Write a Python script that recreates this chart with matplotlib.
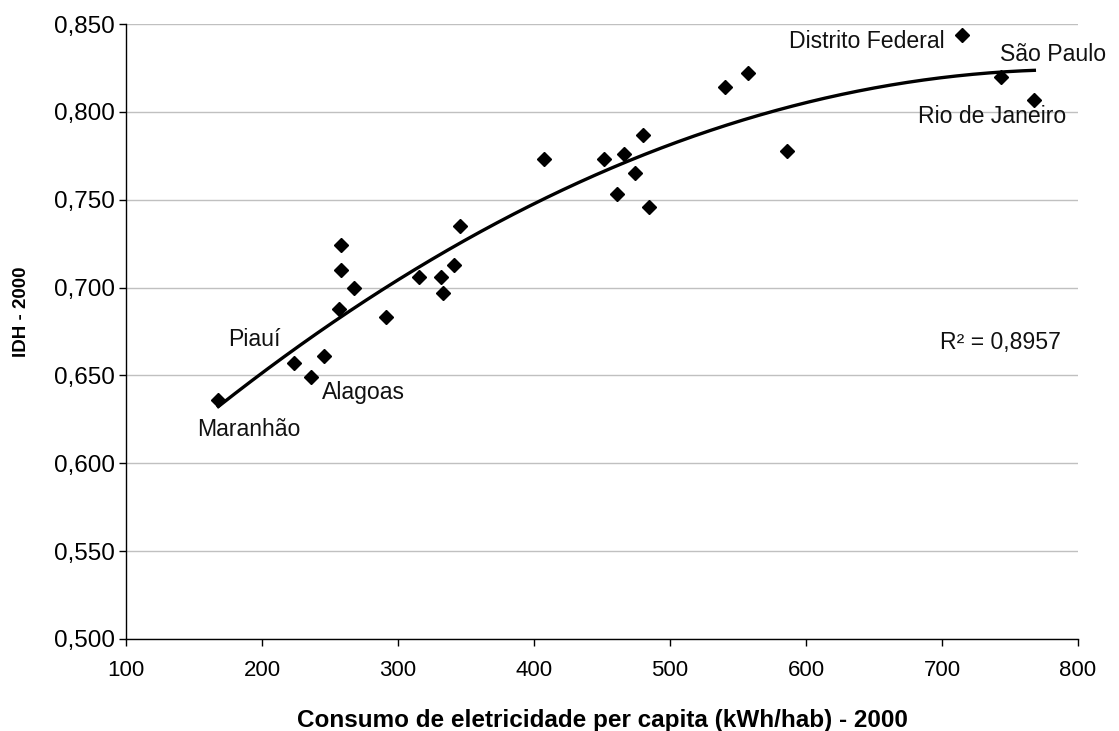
import matplotlib
matplotlib.use("Agg")
import matplotlib.pyplot as plt
import numpy as np
from matplotlib.ticker import FuncFormatter

# ---- data ----
consumo = [167.9, 223.8, 236.0, 245.6, 256.6, 257.8, 257.8, 267.6, 291.2, 315.7,
           331.9, 333.3, 341.4, 345.8, 407.6, 451.5, 460.8, 466.2, 474.3, 479.9,
           484.3, 540.4, 557.6, 585.8, 714.9, 743.4, 767.9]
idh = [0.636, 0.657, 0.649, 0.661, 0.688, 0.710, 0.724, 0.700, 0.683, 0.706,
       0.706, 0.697, 0.713, 0.735, 0.773, 0.773, 0.753, 0.776, 0.765, 0.787,
       0.746, 0.814, 0.822, 0.778, 0.844, 0.820, 0.807]

label_names = ["Distrito Federal", "São Paulo", "Rio de Janeiro", "Piauí", "Alagoas", "Maranhão"]
label_x = [702.2, 742.6, 682.4, 175.0, 244.1, 152.2]
label_y = [0.8398, 0.8324, 0.7971, 0.6702, 0.6400, 0.6195]
label_ha = ["right", "left", "left", "left", "left", "left"]

r2_text = "R² = 0,8957"
x_ticks = [100, 200, 300, 400, 500, 600, 700, 800]
y_ticks = [0.500, 0.550, 0.600, 0.650, 0.700, 0.750, 0.800, 0.850]
x_label = "Consumo de eletricidade per capita (kWh/hab) - 2000"
y_label = "IDH - 2000"

plt.rcParams['font.family'] = ['Liberation Sans', 'DejaVu Sans']

fig = plt.figure(figsize=(11.19, 7.31), dpi=100)
ax = fig.add_axes([126/1119, 1-639/731, (1078-126)/1119, (639-24)/731])

# polynomial (order 2) trendline
coef = np.polyfit(consumo, idh, 2)
xs = np.linspace(min(consumo), max(consumo), 200)
ax.plot(xs, np.polyval(coef, xs), color='black', lw=2.4, zorder=2)

ax.plot(consumo, idh, linestyle='none', marker='D', ms=6.8, color='black', zorder=3)

for name, x, y, ha in zip(label_names, label_x, label_y, label_ha):
    ax.text(x, y, name, ha=ha, va='center', fontsize=16.6, color='#111111')

ax.text(698.5, 0.669, r2_text, ha='left', va='center', fontsize=16.6, color='#111111')

ax.set_xlim(x_ticks[0], x_ticks[-1])
ax.set_ylim(y_ticks[0], y_ticks[-1])
ax.set_xticks(x_ticks)
ax.set_yticks(y_ticks)
ax.yaxis.set_major_formatter(FuncFormatter(lambda v, p: f"{v:.3f}".replace('.', ',')))
ax.tick_params(axis='x', labelsize=16, direction='out', length=5, width=1, color='black', pad=10)
ax.tick_params(axis='y', labelsize=17.5, direction='out', length=5, width=1, color='black', pad=3)

ax.grid(axis='y', color='#c0c0c0', lw=1)
ax.set_axisbelow(True)
for s in ['top', 'right']:
    ax.spines[s].set_visible(False)
for s in ['left', 'bottom']:
    ax.spines[s].set_color('black')
    ax.spines[s].set_linewidth(1)

ax.set_xlabel(x_label, fontsize=17.5, fontweight='bold', labelpad=20)
ax.set_ylabel(y_label, fontsize=13.5, fontweight='bold', va='center')
ax.yaxis.set_label_coords((22-126)/952, (639-312)/615)

fig.savefig("out.png", dpi=100)
